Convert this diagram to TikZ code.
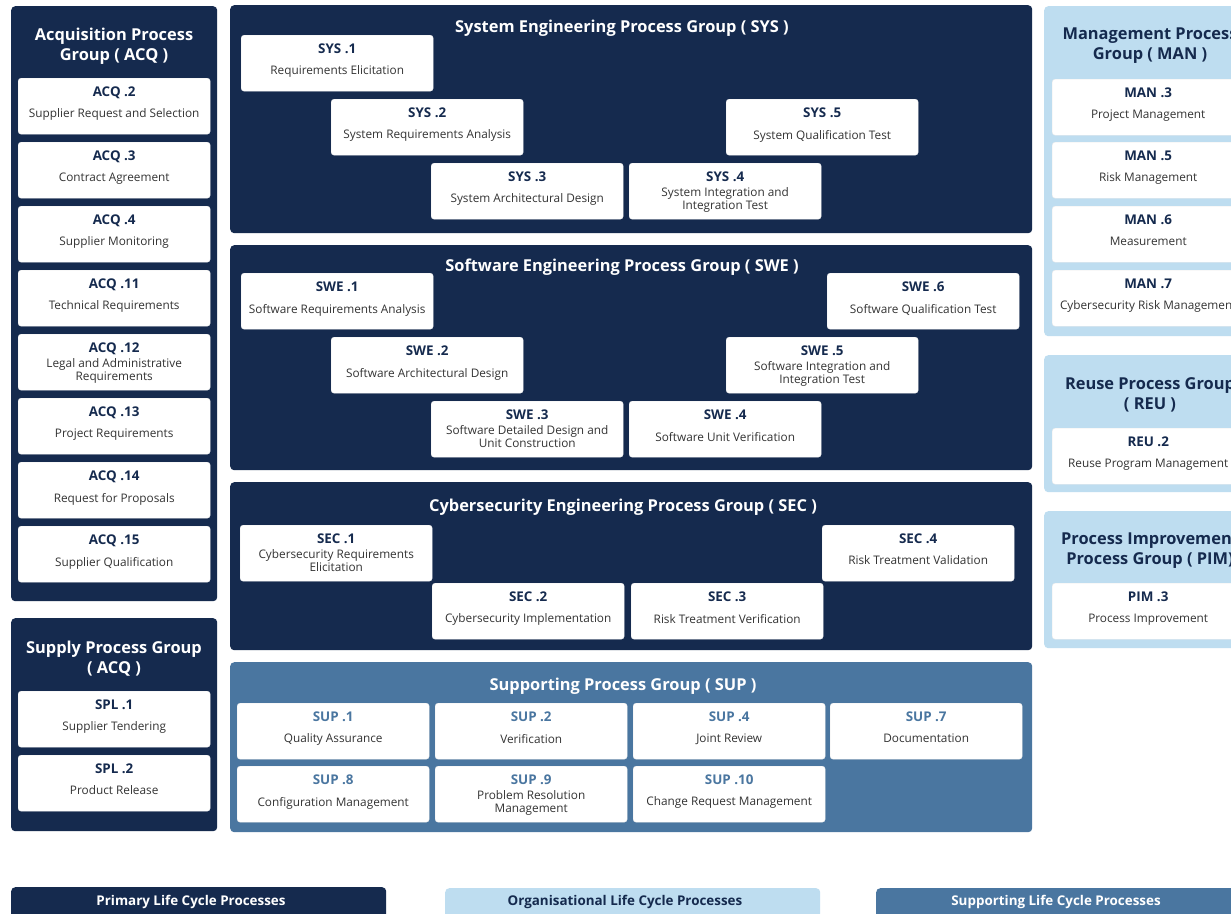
\documentclass[tikz,border=0pt]{standalone}
\usepackage{fontspec}
\setmainfont{Open Sans}
\usetikzlibrary{calc}
\definecolor{navy}{HTML}{152A4E}
\definecolor{lightb}{HTML}{BEDDF0}
\definecolor{steel}{HTML}{4A76A0}
\definecolor{desc}{HTML}{333333}
\newcommand\dstrut{\rule[-3pt]{0pt}{10pt}}
\newcommand\tstrut{\rule{0pt}{13pt}}
\tikzset{
  panel/.style={anchor=north west, inner sep=0pt, rounded corners=4pt},
  card/.style={anchor=north west, fill=white, draw=white!85!gray, line width=0.4pt, rounded corners=3pt, minimum width=192pt, minimum height=56pt, inner sep=0pt},
  codetxt/.style={font=\bfseries\fontsize{13.4}{15}\selectfont, inner sep=0pt, anchor=base},
  desctxt/.style={font=\fontsize{11.8}{13.3}\selectfont, text=desc, align=center, inner sep=0pt,
     execute at begin node=\dstrut, execute at end node=\dstrut},
  ptitle/.style={font=\bfseries\fontsize{16.4}{20}\selectfont, align=center, inner sep=0pt, anchor=north,
     execute at begin node=\tstrut},
  stitle/.style={font=\bfseries\fontsize{16.4}{20}\selectfont, inner sep=0pt, anchor=base},
  legtxt/.style={font=\bfseries\fontsize{13.4}{15}\selectfont, inner sep=0pt, anchor=base}
}
\newcommand\mycard[6]{%
  \node[card] (#1) at (#2,#3) {};
  \node[codetxt, text=#4] (#1c) at ($(#1.north)+(0,18.7)$) {#5};
  \node[desctxt] (#1d) at ($(#1.north)+(0,37)$) {#6};
}
\newcommand\mypanel[6]{% name, x1,y1,x2,y2, color
  \pgfmathsetmacro\pw{#4-#2}\pgfmathsetmacro\ph{#5-#3}%
  \node[panel, fill=#6, minimum width=\pw pt, minimum height=\ph pt] (#1) at (#2,#3) {};
}
\begin{document}
\begin{tikzpicture}[x=1pt,y=-1pt]
\useasboundingbox (0,0) rectangle (1231,913);
\clip (0,0) rectangle (1231,913);
\fill[white] (0,0) rectangle (1231,913);
% panels
\mypanel{acq}{11}{6}{217}{601}{navy}
\mypanel{spl}{11}{618}{217}{831}{navy}
\mypanel{sys}{230}{5}{1032}{233}{navy}
\mypanel{swe}{230}{245}{1032}{470}{navy}
\mypanel{sec}{230}{482}{1032}{650}{navy}
\mypanel{sup}{230}{662}{1032}{832}{steel}
\mypanel{man}{1044}{6}{1252}{336}{lightb}
\mypanel{reu}{1044}{355}{1252}{492}{lightb}
\mypanel{pim}{1044}{511}{1252}{648}{lightb}
% titles (two-line: top = first baseline - 13)
\node[ptitle, text=white] (acqt) at (114,27.7) {Acquisition Process\\Group ( ACQ )};
\node[ptitle, text=white] (splt) at (114,641) {Supply Process Group\\( ACQ )};
\node[stitle, text=white] (syst) at (622,32) {System Engineering Process Group ( SYS )};
\node[stitle, text=white] (swet) at (622,271.4) {Software Engineering Process Group ( SWE )};
\node[stitle, text=white] (sect) at (623,511) {Cybersecurity Engineering Process Group ( SEC )};
\node[stitle, text=white] (supt) at (623,690.7) {Supporting Process Group ( SUP )};
\node[ptitle, text=navy] (mant) at (1150,27.4) {Management Process\\Group ( MAN )};
\node[ptitle, text=navy] (reut) at (1150,377.7) {Reuse Process Group\\( REU )};
\node[ptitle, text=navy] (pimt) at (1150,532.7) {Process Improvement\\Process Group ( PIM)};
% ACQ cards
\mycard{acq2}{18}{78}{navy}{ACQ .2}{Supplier Request and Selection}
\mycard{acq3}{18}{142}{navy}{ACQ .3}{Contract Agreement}
\mycard{acq4}{18}{206}{navy}{ACQ .4}{Supplier Monitoring}
\mycard{acq11}{18}{270}{navy}{ACQ .11}{Technical Requirements}
\mycard{acq12}{18}{334}{navy}{ACQ .12}{Legal and Administrative\\Requirements}
\mycard{acq13}{18}{398}{navy}{ACQ .13}{Project Requirements}
\mycard{acq14}{18}{462}{navy}{ACQ .14}{Request for Proposals}
\mycard{acq15}{18}{526}{navy}{ACQ .15}{Supplier Qualification}
% SPL
\mycard{spl1}{18}{691}{navy}{SPL .1}{Supplier Tendering}
\mycard{spl2}{18}{755}{navy}{SPL .2}{Product Release}
% SYS
\mycard{sys1}{241}{35}{navy}{SYS .1}{Requirements Elicitation}
\mycard{sys2}{331}{99}{navy}{SYS .2}{System Requirements Analysis}
\mycard{sys5}{726}{99}{navy}{SYS .5}{System Qualification Test}
\mycard{sys3}{431}{163}{navy}{SYS .3}{System Architectural Design}
\mycard{sys4}{629}{163}{navy}{SYS .4}{System Integration and\\Integration Test}
% SWE
\mycard{swe1}{241}{273}{navy}{SWE .1}{Software Requirements Analysis}
\mycard{swe6}{827}{273}{navy}{SWE .6}{Software Qualification Test}
\mycard{swe2}{331}{337}{navy}{SWE .2}{Software Architectural Design}
\mycard{swe5}{726}{337}{navy}{SWE .5}{Software Integration and\\Integration Test}
\mycard{swe3}{431}{401}{navy}{SWE .3}{Software Detailed Design and\\Unit Construction}
\mycard{swe4}{629}{401}{navy}{SWE .4}{Software Unit Verification}
% SEC
\mycard{sec1}{240}{525}{navy}{SEC .1}{Cybersecurity Requirements\\Elicitation}
\mycard{sec4}{822}{525}{navy}{SEC .4}{Risk Treatment Validation}
\mycard{sec2}{432}{583}{navy}{SEC .2}{Cybersecurity Implementation}
\mycard{sec3}{631}{583}{navy}{SEC .3}{Risk Treatment Verification}
% SUP
\mycard{sup1}{237}{703}{steel}{SUP .1}{Quality Assurance}
\mycard{sup2}{435}{703}{steel}{SUP .2}{Verification}
\mycard{sup4}{633}{703}{steel}{SUP .4}{Joint Review}
\mycard{sup7}{830}{703}{steel}{SUP .7}{Documentation}
\mycard{sup8}{237}{766}{steel}{SUP .8}{Configuration Management}
\mycard{sup9}{435}{766}{steel}{SUP .9}{Problem Resolution\\Management}
\mycard{sup10}{633}{766}{steel}{SUP .10}{Change Request Management}
% MAN
\mycard{man3}{1052}{79}{navy}{MAN .3}{Project Management}
\mycard{man5}{1052}{142}{navy}{MAN .5}{Risk Management}
\mycard{man6}{1052}{206}{navy}{MAN .6}{Measurement}
\mycard{man7}{1052}{270}{navy}{MAN .7}{Cybersecurity Risk Management}
\mycard{reu2}{1052}{428}{navy}{REU .2}{Reuse Program Management}
\mycard{pim3}{1052}{583}{navy}{PIM .3}{Process Improvement}
% legend
\mypanel{legp}{11}{887}{386}{925}{navy}
\mypanel{lego}{445}{888}{820}{925}{lightb}
\mypanel{legs}{876}{888}{1251}{925}{steel}
\node[legtxt, text=white] (legpt) at (191,905.6) {Primary Life Cycle Processes};
\node[legtxt, text=navy] (legot) at (625,905.6) {Organisational Life Cycle Processes};
\node[legtxt, text=white] (legst) at (1056,905.6) {Supporting Life Cycle Processes};
\end{tikzpicture}
\end{document}
